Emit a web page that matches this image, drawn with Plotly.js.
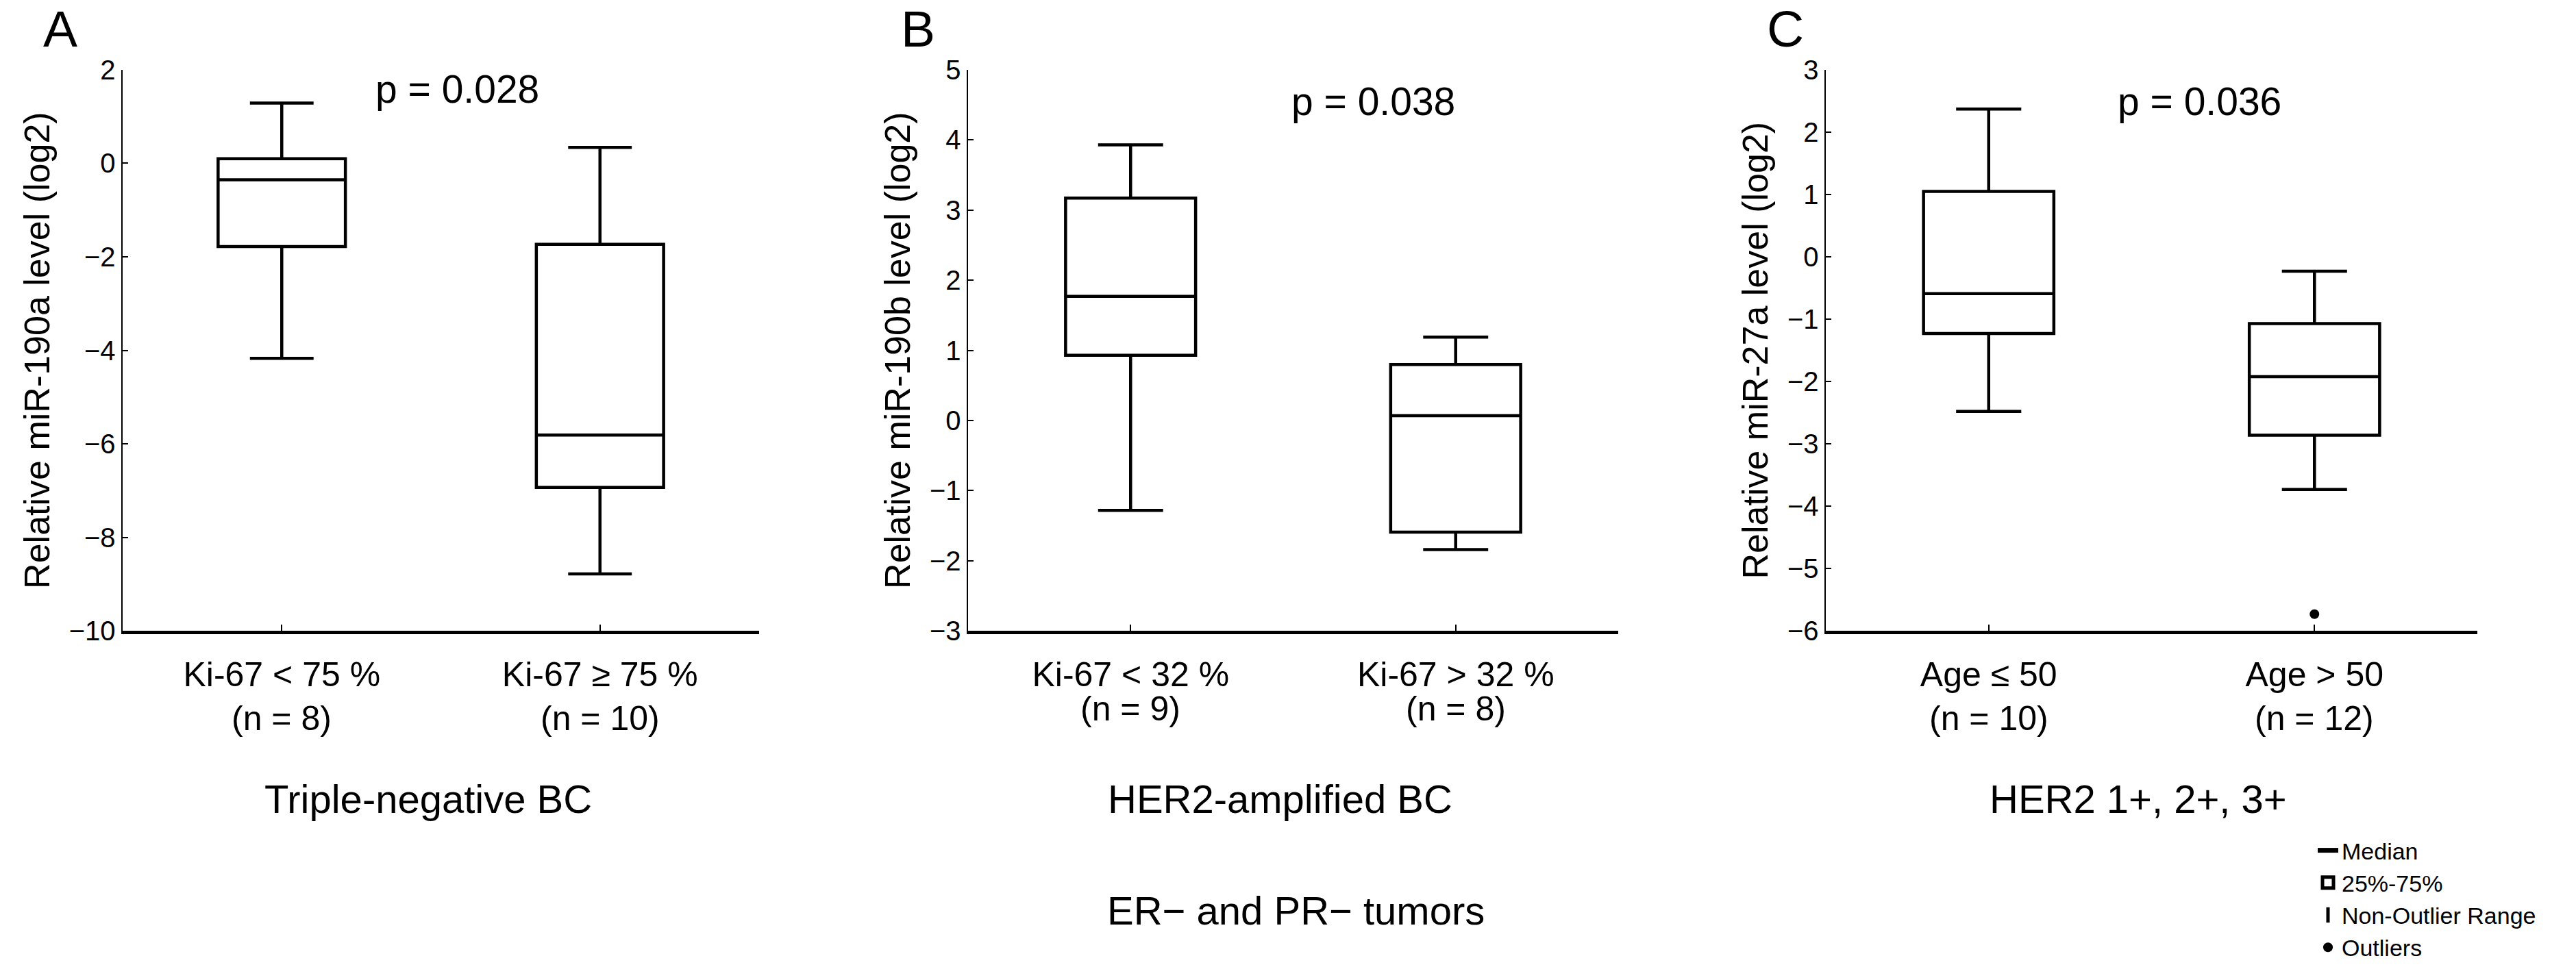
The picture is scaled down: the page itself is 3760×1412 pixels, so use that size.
<!DOCTYPE html>
<html>
<head>
<meta charset="utf-8">
<script src="https://cdn.plot.ly/plotly-3.0.1.min.js"></script>
<style>
  body { margin: 0; background: #fff; }
  #chart { width: 3760px; height: 1412px; }
</style>
</head>
<body>
<div id="chart"></div>
<script>
// Box plot stats (log2 relative expression)
var panelLetters = ['A', 'B', 'C'];
var pValues = ['p = 0.028', 'p = 0.038', 'p = 0.036'];
var yTitles = ['Relative miR-190a level (log2)', 'Relative miR-190b level (log2)', 'Relative miR-27a level (log2)'];
var groups = [['Ki-67 < 75 %', 'Ki-67 ≥ 75 %'], ['Ki-67 < 32 %', 'Ki-67 > 32 %'], ['Age ≤ 50', 'Age > 50']];
var nLabels = [['(n = 8)', '(n = 10)'], ['(n = 9)', '(n = 8)'], ['(n = 10)', '(n = 12)']];
var subsetTitles = ['Triple-negative BC', 'HER2-amplified BC', 'HER2 1+, 2+, 3+'];
var footTitle = 'ER\u2212 and PR\u2212 tumors';

var upper = [[1.29, 0.34], [3.93, 1.19], [2.37, -0.23]];
var q3 = [[0.10, -1.73], [3.17, 0.80], [1.05, -1.07]];
var median = [[-0.35, -5.81], [1.77, 0.07], [-0.59, -1.92]];
var q1 = [[-1.78, -6.93], [0.93, -1.59], [-1.23, -2.86]];
var lower = [[-4.17, -8.78], [-1.28, -1.84], [-2.48, -3.73]];

var outlierGroup = ['Age > 50'];
var outlierValue = [-5.73];

var yRanges = [[-10, 2], [-3, 5], [-6, 3]];
var yDticks = [2, 1, 1];

var font = 'Liberation Sans, Arial, sans-serif';
var W = 3760, H = 1412;
var xDomains = [[179 / W, 1108 / W], [1413 / W, 2362 / W], [2665 / W, 3616 / W]];
var yDomain = [1 - 922 / H, 1 - 102 / H];
var pPos = [[0.526, 0.966], [0.623, 0.944], [0.574, 0.944]];
var letterX = [88 / W, 1340 / W, 2606 / W];

var data = [];
var annotations = [];
var layout = {
  width: W,
  height: H,
  margin: {l: 0, r: 0, t: 0, b: 0},
  paper_bgcolor: '#fff',
  plot_bgcolor: '#fff',
  font: {family: font, color: '#000', size: 40},
  showlegend: true,
  legend: {
    x: 3378 / W, y: 1 - 1214 / H, xanchor: 'left', yanchor: 'top',
    font: {size: 34, family: font, color: '#000'},
    bgcolor: 'rgba(0,0,0,0)', tracegroupgap: 0, itemwidth: 30
  }
};

function note(xref, yref, x, y, text, size) {
  return {xref: xref, yref: yref, x: x, y: y, text: text, showarrow: false,
          xanchor: 'center', yanchor: 'middle', font: {size: size}};
}

for (var i = 0; i < 3; i++) {
  var xa = 'x' + (i === 0 ? '' : i + 1);
  var ya = 'y' + (i === 0 ? '' : i + 1);
  data.push({
    type: 'box',
    x: groups[i],
    q1: q1[i],
    median: median[i],
    q3: q3[i],
    lowerfence: lower[i],
    upperfence: upper[i],
    xaxis: xa,
    yaxis: ya,
    width: 0.4,
    whiskerwidth: 0.5,
    fillcolor: '#fff',
    line: {color: '#000', width: 4.5},
    boxpoints: false,
    hoverinfo: 'none',
    showlegend: false
  });

  layout['xaxis' + (i === 0 ? '' : i + 1)] = {
    domain: xDomains[i],
    anchor: ya,
    type: 'category',
    range: [-0.5, 1.5],
    showline: true, linecolor: '#000', linewidth: 5,
    ticks: 'inside', ticklen: 9, tickwidth: 2, tickcolor: '#000',
    showgrid: false, zeroline: false,
    tickfont: {size: 50, family: font},
    ticklabelstandoff: 16
  };
  layout['yaxis' + (i === 0 ? '' : i + 1)] = {
    domain: yDomain,
    anchor: xa,
    range: yRanges[i],
    dtick: yDticks[i],
    showline: true, linecolor: '#000', linewidth: 2.5,
    ticks: 'inside', ticklen: 8, tickwidth: 2, tickcolor: '#000',
    showgrid: false, zeroline: false,
    tickfont: {size: 40, family: font},
    automargin: false,
    title: {text: yTitles[i], font: {size: 52, family: font}, standoff: 12}
  };

  var xd = xa + ' domain';
  var yd = ya + ' domain';
  annotations.push(note(xd, yd, pPos[i][0], pPos[i][1], pValues[i], 57));
  annotations.push(note('paper', 'paper', letterX[i], 1 - 42 / H, panelLetters[i], 75));
  annotations.push(note(xd, 'paper', 0.48, 1 - 1167 / H, subsetTitles[i], 58));
  for (var j = 0; j < 2; j++) {
    annotations.push(note(xa, 'paper', groups[i][j], 1 - (i === 1 ? 1036 : 1050) / H, nLabels[i][j], 50));
  }
}

// outlier
data.push({
  type: 'scatter', mode: 'markers',
  x: outlierGroup, y: outlierValue,
  xaxis: 'x3', yaxis: 'y3',
  marker: {color: '#000', size: 14},
  name: 'Outliers', hoverinfo: 'none', legendrank: 4
});
// legend-only keys
data.push({
  type: 'scatter', mode: 'lines', x: [null], y: [null],
  line: {color: '#000', width: 7},
  name: 'Median', hoverinfo: 'none', legendrank: 1
});
data.push({
  type: 'scatter', mode: 'markers', x: [null], y: [null],
  marker: {symbol: 'square-open', color: '#000', size: 18, line: {color: '#000', width: 5}},
  name: '25%-75%', hoverinfo: 'none', legendrank: 2
});
data.push({
  type: 'scatter', mode: 'markers', x: [null], y: [null],
  marker: {symbol: 'line-ns-open', color: '#000', size: 26, line: {color: '#000', width: 5}},
  name: 'Non-Outlier Range', hoverinfo: 'none', legendrank: 3
});

annotations.push(note('paper', 'paper', 1891 / W, 1 - 1330 / H, footTitle, 58));

layout.annotations = annotations;

Plotly.newPlot('chart', data, layout, {staticPlot: true});
</script>
</body>
</html>
